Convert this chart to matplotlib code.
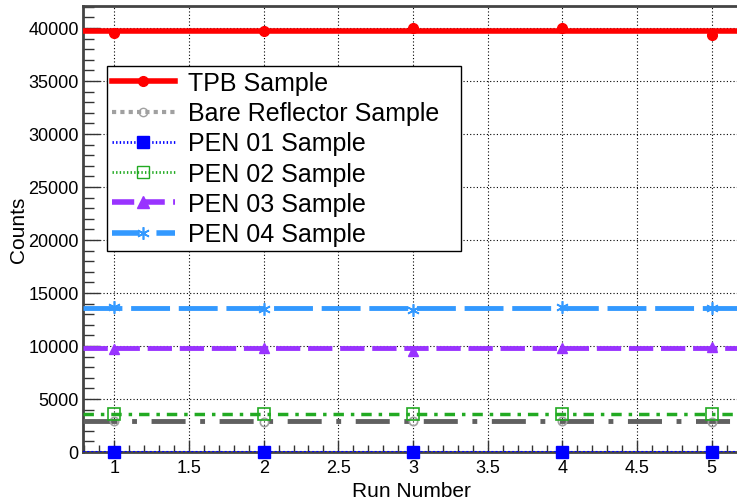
import numpy as np
import matplotlib
matplotlib.use("Agg")
import matplotlib.pyplot as plt
from matplotlib.lines import Line2D
from matplotlib.ticker import MultipleLocator

plt.rcParams['font.family'] = ['Liberation Sans', 'DejaVu Sans']

##### Data #####
runs = [1, 2, 3, 4, 5]
tpb = [39500, 39700, 40000, 40000, 39330]
bare = [2900, 2850, 2950, 2900, 2850]
pen01 = [0, 0, 0, 0, 0]
pen02 = [3600, 3550, 3550, 3600, 3580]
pen03 = [9750, 9800, 9550, 9800, 9950]
pen04 = [13650, 13500, 13380, 13700, 13600]
bare_level = 2950

labels = ['TPB Sample', 'Bare Reflector Sample', 'PEN 01 Sample',
          'PEN 02 Sample', 'PEN 03 Sample', 'PEN 04 Sample']

##### Colours #####
red = '#ff0000'
gray_dark = '#606060'
gray_light = '#a0a0a0'
blue = '#0000ff'
green = '#22aa22'
purple = '#9933ff'
lblue = '#3399ff'

fig = plt.figure(figsize=(7.37, 5.02), dpi=100)
ax = fig.add_axes([83/737, 49/502, 657/737, 446/502])

xlo, xhi = 0.79, 5.19
ax.set_xlim(xlo, xhi)
ax.set_ylim(0, 42075)

# horizontal mean lines
def hline(level, color, ls, lw, z):
    ax.plot([xlo, xhi], [level] * 2, color=color, ls=ls, lw=lw,
            zorder=z, solid_capstyle='butt', dash_capstyle='butt')

hline(np.mean(tpb), red, '-', 4.0, 3)
hline(bare_level, gray_dark, (0, (7, 3, 1, 3)), 3.5, 3)
hline(np.mean(pen01), blue, (0, (1, 1)), 1.5, 3)
hline(np.mean(pen02), green, (0, (3, 2, 1, 2)), 2.5, 3)
hline(np.mean(pen03), purple, (0, (5, 1.6)), 3.5, 3)
hline(np.mean(pen04), lblue, (0, (8, 1.8)), 3.5, 3)

# data points
ax.plot(runs, tpb, 'o', color=red, ms=7, zorder=4)
ax.plot(runs, bare, 'o', mfc='none', mec=gray_light, mew=1.2, ms=6, zorder=4)
ax.plot(runs, pen01, 's', color=blue, ms=9, zorder=5, clip_on=False)
ax.plot(runs, pen02, 's', mfc='none', mec=green, mew=1.2, ms=8, zorder=4)
ax.plot(runs, pen03, '^', color=purple, ms=7, zorder=4)
ax.plot(runs, pen04, marker=(6, 2, 0), ls='none', color=lblue, ms=9, mew=1.2, zorder=4)

##### Axis cosmetics (ROOT look) #####
ax.xaxis.set_minor_locator(MultipleLocator(0.1))
ax.yaxis.set_major_locator(MultipleLocator(5000))
ax.yaxis.set_minor_locator(MultipleLocator(1000))
ax.set_xticks([1, 1.5, 2, 2.5, 3, 3.5, 4, 4.5, 5])
ax.set_xticklabels(['1', '1.5', '2', '2.5', '3', '3.5', '4', '4.5', '5'])
ax.tick_params(axis='both', which='both', direction='in', labelsize=13,
               color='#333333')
ax.tick_params(axis='x', which='major', length=9, width=1, pad=5)
ax.tick_params(axis='x', which='minor', length=5, width=1)
ax.tick_params(axis='y', which='major', length=12, width=1, pad=3)
ax.tick_params(axis='y', which='minor', length=8, width=1)
ax.grid(True, which='major', color='black', ls=(0, (1, 2)), lw=0.8)
for side in ['left', 'bottom', 'top']:
    ax.spines[side].set_linewidth(2)
    ax.spines[side].set_color('#444444')
ax.spines['right'].set_visible(False)

ax.set_xlabel('Run Number', fontsize=15)
ax.xaxis.set_label_coords(0.5, -0.065)
ax.set_ylabel('Counts', fontsize=15)
ax.yaxis.set_label_coords(-0.083, 0.5)

##### Legend #####
handles = [
    Line2D([], [], color=red, lw=4, marker='o', ms=7),
    Line2D([], [], color=gray_light, lw=3, ls=(0, (1, 1)), marker='o', mfc='none', mec=gray_light, ms=6),
    Line2D([], [], color=blue, lw=2, ls=(0, (0.5, 0.8)), marker='s', ms=9),
    Line2D([], [], color=green, lw=2, ls=(0, (0.5, 0.8)), marker='s', mfc='none', mec=green, ms=8),
    Line2D([], [], color=purple, lw=4, ls=(0, (4, 1.5)), marker='^', ms=8),
    Line2D([], [], color=lblue, lw=4, ls=(0, (5, 3)), marker=(6, 2, 0), ms=9, mew=1.2),
]
leg = fig.legend(handles, labels, loc='upper left',
                 bbox_to_anchor=(107/737, 1 - 252/502, 354/737, 185/502),
                 mode='expand', borderaxespad=0,
                 fontsize=18, frameon=True, fancybox=False, framealpha=1,
                 edgecolor='black', handlelength=2.5, handletextpad=0.55,
                 labelspacing=0.25, borderpad=0.2)
leg.get_frame().set_linewidth(1.0)

fig.savefig('out.png', dpi=100)
